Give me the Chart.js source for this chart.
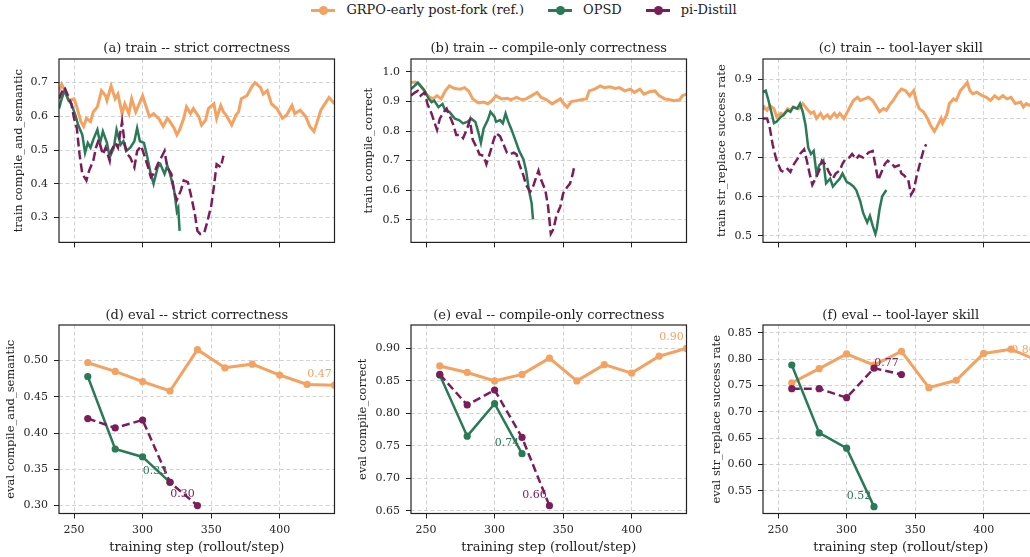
<!DOCTYPE html>
<html>
<head>
<meta charset="utf-8">
<script src="https://cdn.jsdelivr.net/npm/chart.js@4.4.0/dist/chart.umd.min.js"></script>
<style>
html, body { margin: 0; padding: 0; background: #fff; width: 1030px; height: 557px; overflow: hidden; position: relative; }
canvas { position: absolute; }
#legend { position: absolute; left: 0; top: 1px; width: 1030px; display: flex; justify-content: center;
  font: 13px 'DejaVu Serif', serif; color: #222; line-height: 18px; padding-left: 18px; box-sizing: border-box; }
.item { display: flex; align-items: center; margin: 0 12px; }
.sym { position: relative; width: 24px; height: 3px; margin-right: 11px; }
.sym::after { content: ''; position: absolute; left: 8px; top: -3px; width: 9px; height: 9px; border-radius: 50%; background: inherit; }
</style>
</head>
<body>
<div id="legend"></div>
<canvas id="cA" width="345" height="225" style="left:0px;top:30px"></canvas>
<canvas id="cB" width="345" height="225" style="left:352px;top:30px"></canvas>
<canvas id="cC" width="345" height="225" style="left:704px;top:30px"></canvas>
<canvas id="cD" width="345" height="259" style="left:0px;top:298px"></canvas>
<canvas id="cE" width="345" height="259" style="left:352px;top:298px"></canvas>
<canvas id="cF" width="345" height="259" style="left:704px;top:298px"></canvas>
<script>
// ---- data ----
var seriesNames = ['GRPO-early post-fork (ref.)', 'OPSD', 'pi-Distill'];
var xTicks = [250, 300, 350, 400];

// (a) train compile_and_semantic (rolling)
var stepsA_grpo = [239,241,244,246,250,252,255,257,259,262,264,267,270,273,274,277,280,282,285,287,290,292,295,297,300,303,305,308,312,315,318,320,323,325,327,330,332,335,337,341,343,346,348,352,354,357,359,361,365,368,370,372,376,380,382,386,388,391,394,398,402,405,409,411,415,419,422,425,427,430,433,436,440];
var trainA_grpo = [.676,.695,.671,.647,.652,.628,.584,.570,.594,.584,.613,.628,.676,.661,.647,.690,.652,.666,.608,.637,.608,.652,.613,.632,.661,.623,.599,.608,.592,.570,.594,.584,.565,.545,.560,.594,.628,.608,.623,.599,.574,.589,.623,.637,.594,.632,.613,.603,.574,.603,.613,.652,.661,.690,.700,.686,.666,.676,.637,.623,.594,.603,.632,.608,.618,.599,.570,.555,.579,.618,.637,.656,.637];
var stepsA_opsd = [239,241,243,246,248,251,253,256,258,260,262,264,267,269,271,274,276,279,281,284,286,288,291,294,296,298,301,303,306,308,311,313,316,318,320,323,325,326,327];
var trainA_opsd = [.623,.652,.676,.647,.637,.603,.574,.545,.492,.521,.507,.531,.560,.521,.555,.521,.478,.507,.560,.516,.526,.497,.507,.526,.565,.526,.521,.487,.429,.400,.449,.458,.429,.454,.429,.381,.318,.328,.260];
var stepsA_pi = [239,241,243,246,248,250,252,254,256,259,261,264,266,268,271,273,276,277,280,282,285,287,289,291,294,296,299,301,304,306,308,311,313,316,318,321,323,325,328,330,333,335,338,340,342,345,347,350,352,354,357,359];
var trainA_pi = [.652,.671,.686,.657,.637,.594,.565,.487,.429,.410,.439,.468,.507,.531,.487,.507,.468,.497,.521,.507,.584,.516,.487,.478,.449,.497,.512,.487,.449,.420,.429,.458,.473,.497,.449,.429,.376,.352,.381,.410,.405,.371,.313,.260,.251,.255,.284,.333,.391,.458,.449,.483];
var yTicksA = [0.3, 0.4, 0.5, 0.6, 0.7];

// (b) train compile_correct (rolling)
var stepsB_grpo = [239,242,245,248,250,253,255,258,261,264,267,271,275,278,281,284,288,292,295,298,301,305,309,312,316,320,323,327,331,334,338,342,344,348,350,353,356,360,363,367,369,373,377,380,384,388,391,395,399,402,406,409,413,417,420,424,428,431,435,437,440];
var trainB_grpo = [.964,.966,.958,.942,.925,.914,.909,.920,.909,.936,.953,.944,.942,.947,.936,.909,.895,.898,.892,.903,.920,.909,.911,.906,.914,.906,.909,.920,.931,.914,.906,.892,.898,.909,.895,.881,.900,.903,.906,.909,.936,.942,.953,.947,.950,.944,.947,.936,.942,.931,.942,.925,.933,.936,.920,.909,.906,.903,.906,.920,.925];
var stepsB_opsd = [239,242,244,247,249,252,254,256,259,262,264,267,271,274,277,280,283,286,288,290,292,295,297,300,301,304,306,308,310,312,315,318,321,323,325,327,328];
var trainB_opsd = [.942,.955,.964,.947,.936,.909,.898,.903,.881,.892,.870,.865,.842,.837,.826,.831,.842,.831,.798,.760,.809,.837,.865,.848,.831,.837,.826,.859,.831,.809,.771,.732,.705,.666,.600,.556,.501];
var stepsB_pi = [239,242,244,246,249,251,254,256,258,260,263,265,267,270,272,275,277,280,282,284,287,289,292,294,297,299,301,304,306,309,311,314,316,318,321,323,326,328,330,332,334,337,339,341,343,345,348,350,353,355,357,358];
var trainB_pi = [.920,.931,.936,.920,.931,.892,.859,.831,.804,.842,.865,.876,.854,.820,.787,.787,.776,.809,.837,.771,.743,.721,.716,.688,.732,.765,.793,.782,.760,.727,.721,.727,.721,.688,.650,.617,.595,.611,.639,.666,.634,.600,.545,.452,.468,.512,.545,.589,.611,.622,.655,.677];
var yTicksB = [0.5, 0.6, 0.7, 0.8, 0.9, 1.0];

// (c) train str_replace success rate (rolling)
var stepsC_grpo = [239,240,242,244,247,249,252,254,257,259,261,265,268,271,274,276,278,281,283,286,288,291,293,295,298,300,303,305,308,310,313,316,319,322,324,327,329,332,334,337,340,343,346,349,351,353,356,359,361,364,366,369,370,373,375,378,380,383,386,388,390,392,395,399,402,405,408,411,414,417,420,423,427,429,431,434,437,440];
var trainC_grpo = [.821,.829,.821,.833,.825,.804,.813,.809,.825,.821,.829,.825,.838,.825,.813,.817,.800,.813,.800,.809,.800,.813,.804,.813,.800,.813,.833,.846,.854,.846,.850,.854,.846,.829,.817,.825,.821,.838,.846,.863,.875,.871,.858,.871,.842,.825,.817,.800,.784,.767,.779,.800,.788,.809,.838,.850,.846,.871,.883,.892,.871,.863,.867,.858,.854,.846,.858,.850,.858,.850,.854,.838,.842,.829,.838,.833,.825,.835];
var stepsC_opsd = [239,241,243,245,247,249,252,254,257,259,261,264,266,268,270,272,274,276,278,280,283,285,288,290,293,295,297,300,302,305,307,310,312,315,317,319,321,322,324,326,329];
var trainC_opsd = [.867,.871,.846,.817,.788,.792,.804,.809,.821,.817,.829,.825,.838,.817,.784,.725,.709,.717,.659,.680,.692,.634,.646,.626,.638,.646,.659,.638,.634,.626,.617,.588,.559,.534,.551,.526,.505,.518,.567,.601,.617];
var stepsC_pi = [239,242,244,246,248,249,252,254,257,259,261,264,266,269,271,273,275,278,280,282,285,287,290,292,295,297,299,302,304,307,309,312,314,316,319,321,323,325,328,330,333,335,338,340,342,345,347,349,351,354,356,358];
var trainC_pi = [.800,.800,.775,.734,.705,.692,.667,.663,.671,.663,.680,.696,.709,.721,.692,.659,.630,.651,.667,.692,.680,.663,.646,.659,.667,.684,.696,.700,.709,.696,.705,.700,.705,.713,.717,.680,.642,.659,.684,.692,.684,.676,.680,.659,.654,.642,.605,.617,.651,.692,.717,.734];
var yTicksC = [0.5, 0.6, 0.7, 0.8, 0.9];

// eval checkpoints
var evalSteps = [260, 280, 300, 320, 340, 360, 380, 400, 420, 440];
var evalD_grpo = [.497, .485, .471, .458, .515, .490, .495, .480, .467, .466];
var evalD_opsd = [.478, .378, .367, .332];
var evalD_pi = [.420, .407, .418, .332, .300];
var yTicksD = [0.30, 0.35, 0.40, 0.45, 0.50];
var evalE_grpo = [.873, .863, .850, .860, .885, .850, .875, .862, .888, .900];
var evalE_opsd = [.859, .765, .815, .738];
var evalE_pi = [.860, .813, .836, .763, .658];
var yTicksE = [0.65, 0.70, 0.75, 0.80, 0.85, 0.90];
var evalF_grpo = [.755, .782, .810, .789, .815, .746, .760, .811, .819, .797];
var evalF_opsd = [.789, .660, .631, .520];
var evalF_pi = [.744, .744, .727, .783, .771];
var yTicksF = [0.55, 0.60, 0.65, 0.70, 0.75, 0.80, 0.85];

// ---- styling ----
var ORANGE = '#f4a261', GREEN = '#2b7a57', PURPLE = '#7a1d5a';
var SERIF = "'DejaVu Serif', serif";
Chart.defaults.font.family = SERIF;
Chart.defaults.color = '#262626';

var legend = document.getElementById('legend');
[[seriesNames[0], ORANGE], [seriesNames[1], GREEN], [seriesNames[2], PURPLE]].forEach(function (s) {
  var d = document.createElement('div');
  d.className = 'item';
  d.innerHTML = '<span class="sym" style="background:' + s[1] + '"></span>' + s[0];
  legend.appendChild(d);
});

function pts(xs, ys) {
  return ys.map(function (v, i) { return { x: xs[i], y: v }; });
}

// box around the axes + title centred over the plot area
var frame = {
  id: 'frame',
  afterDraw: function (chart) {
    var a = chart.chartArea, ctx = chart.ctx, t = chart.options.panelTitle;
    ctx.save();
    ctx.strokeStyle = '#222';
    ctx.lineWidth = 1.2;
    ctx.strokeRect(a.left, a.top, a.right - a.left, a.bottom - a.top);
    ctx.fillStyle = '#222';
    ctx.font = '13px ' + SERIF;
    ctx.textAlign = 'center';
    ctx.textBaseline = 'middle';
    ctx.fillText(t.text, (a.left + a.right) / 2, a.top - t.gap);
    ctx.restore();
  }
};

var endLabels = {
  id: 'endLabels',
  afterDatasetsDraw: function (chart) {
    var ctx = chart.ctx;
    ctx.save();
    ctx.font = '11px ' + SERIF;
    ctx.textAlign = 'center';
    ctx.textBaseline = 'middle';
    chart.data.datasets.forEach(function (ds, i) {
      if (!ds.endLabel) return;
      var meta = chart.getDatasetMeta(i);
      var el = meta.data[meta.data.length - 1];
      var v = ds.data[ds.data.length - 1].y;
      ctx.fillStyle = ds.borderColor;
      ctx.fillText(v.toFixed(2), el.x - 15, el.y - 11);
    });
    ctx.restore();
  }
};

function trainSets(g, o, p) {
  return [
    { label: seriesNames[0], data: g, borderColor: ORANGE, borderWidth: 3, order: 3 },
    { label: seriesNames[1], data: o, borderColor: GREEN, borderWidth: 2.5, order: 2 },
    { label: seriesNames[2], data: p, borderColor: PURPLE, borderWidth: 2.5, borderDash: [9, 4], order: 1 }
  ].map(function (d) { d.pointRadius = 0; d.fill = false; return d; });
}

function evalSets(g, o, p) {
  return [
    { label: seriesNames[0], data: pts(evalSteps, g), borderColor: ORANGE, borderWidth: 3, order: 3 },
    { label: seriesNames[1], data: pts(evalSteps, o), borderColor: GREEN, borderWidth: 2.5, order: 2 },
    { label: seriesNames[2], data: pts(evalSteps, p), borderColor: PURPLE, borderWidth: 2.5, borderDash: [8, 4], order: 1 }
  ].map(function (d) {
    d.pointRadius = 3.6; d.pointBorderWidth = 0; d.pointBackgroundColor = d.borderColor;
    d.fill = false; d.endLabel = true; return d;
  });
}

function panel(id, o) {
  new Chart(document.getElementById(id), {
    type: 'line',
    data: { datasets: o.datasets },
    options: {
      responsive: false,
      animation: false,
      panelTitle: { text: o.title, gap: o.bottom ? 9.3 : 10.7 },
      layout: { padding: { left: 0, right: 10.5, top: o.bottom ? 27 : 29, bottom: 0 } },
      plugins: {
        legend: { display: false },
        tooltip: { enabled: false },
        title: { display: false }
      },
      scales: {
        x: {
          type: 'linear', min: 239, max: 440,
          afterBuildTicks: function (s) { s.ticks = xTicks.map(function (v) { return { value: v }; }); },
          afterFit: function (s) { s.height = o.bottom ? 43.5 : 8; },
          grid: { color: '#c6c6c6', lineWidth: 0.8, tickColor: '#222', tickLength: 5, tickWidth: 1 },
          border: { display: false, dash: [4, 2.5] },
          ticks: { display: !!o.bottom, padding: 5, font: { size: 11 }, color: '#262626', maxRotation: 0 },
          title: {
            display: !!o.bottom, text: 'training step (rollout/step)', color: '#222',
            font: { size: 13 }, padding: { top: 0, bottom: 1.2 }
          }
        },
        y: {
          type: 'linear', min: o.yMin, max: o.yMax,
          afterBuildTicks: function (s) { s.ticks = o.yTicks.map(function (v) { return { value: v }; }); },
          afterFit: function (s) { s.width = 59; },
          grid: { color: '#c6c6c6', lineWidth: 0.8, tickColor: '#222', tickLength: 5, tickWidth: 1 },
          border: { display: false, dash: [4, 2.5] },
          ticks: {
            padding: 6, font: { size: 11 }, color: '#262626',
            callback: function (v) { return v.toFixed(o.yDec); }
          },
          title: {
            display: true, text: o.yTitle, color: '#222',
            font: { size: 11.5 }, padding: { top: o.yPad, bottom: 0 }
          }
        }
      }
    },
    plugins: [frame, endLabels]
  });
}

panel('cA', { title: '(a) train -- strict correctness', yTitle: 'train compile_and_semantic',
  yMin: 0.226, yMax: 0.770, yTicks: yTicksA, yDec: 1, yPad: 12,
  datasets: trainSets(pts(stepsA_grpo, trainA_grpo), pts(stepsA_opsd, trainA_opsd), pts(stepsA_pi, trainA_pi)) });
panel('cB', { title: '(b) train -- compile-only correctness', yTitle: 'train compile_correct',
  yMin: 0.423, yMax: 1.044, yTicks: yTicksB, yDec: 1, yPad: 10,
  datasets: trainSets(pts(stepsB_grpo, trainB_grpo), pts(stepsB_opsd, trainB_opsd), pts(stepsB_pi, trainB_pi)) });
panel('cC', { title: '(c) train -- tool-layer skill', yTitle: 'train str_replace success rate',
  yMin: 0.483, yMax: 0.952, yTicks: yTicksC, yDec: 1, yPad: 11,
  datasets: trainSets(pts(stepsC_grpo, trainC_grpo), pts(stepsC_opsd, trainC_opsd), pts(stepsC_pi, trainC_pi)) });
panel('cD', { title: '(d) eval -- strict correctness', yTitle: 'eval compile_and_semantic', bottom: true,
  yMin: 0.289, yMax: 0.549, yTicks: yTicksD, yDec: 2, yPad: 4,
  datasets: evalSets(evalD_grpo, evalD_opsd, evalD_pi) });
panel('cE', { title: '(e) eval -- compile-only correctness', yTitle: 'eval compile_correct', bottom: true,
  yMin: 0.646, yMax: 0.936, yTicks: yTicksE, yDec: 2, yPad: 4,
  datasets: evalSets(evalE_grpo, evalE_opsd, evalE_pi) });
panel('cF', { title: '(f) eval -- tool-layer skill', yTitle: 'eval str_replace success rate', bottom: true,
  yMin: 0.507, yMax: 0.865, yTicks: yTicksF, yDec: 2, yPad: 6,
  datasets: evalSets(evalF_grpo, evalF_opsd, evalF_pi) });
</script>
</body>
</html>
